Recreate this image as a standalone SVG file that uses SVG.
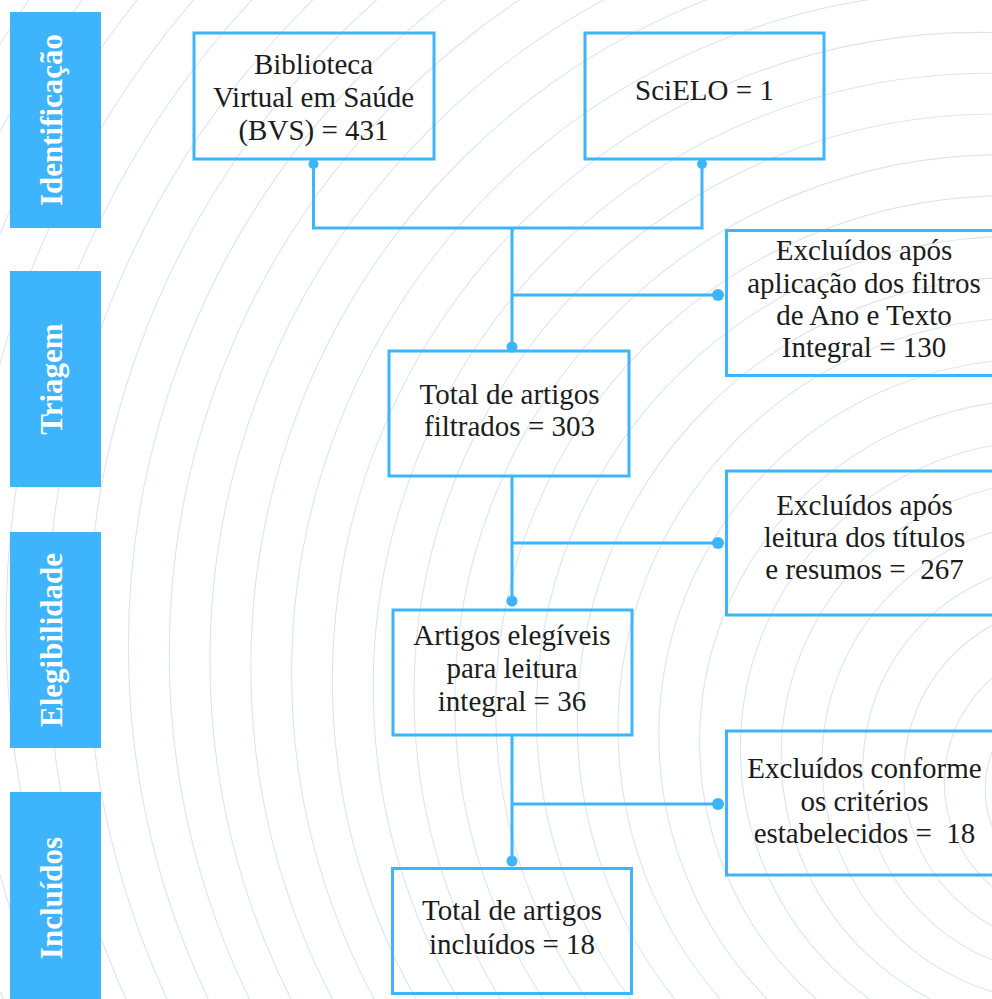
<svg xmlns="http://www.w3.org/2000/svg" width="992" height="999" viewBox="0 0 992 999">
<style>
.lane{fill:#3db4fc}
.lane-t{font-family:"Liberation Serif","Times New Roman",serif;font-weight:bold;font-size:31px;fill:#ffffff;text-anchor:middle}
.box{fill:none;stroke:#3db5fa;stroke-width:3}
.t{font-family:"Liberation Serif","Times New Roman",serif;font-size:29px;fill:#1c1c1c;text-anchor:middle}
.c{fill:none;stroke:#3db5fa;stroke-width:3}
.dot{fill:#3db5fa}
.bg circle{fill:none;stroke:#dde5eb;stroke-width:1.1}
.pre{white-space:pre}
</style>
<rect x="0" y="0" width="992" height="999" fill="#ffffff"/>
<g id="background" class="bg">
<circle cx="1096" cy="796" r="70"/>
<circle cx="1089.2" cy="789.2" r="104"/>
<circle cx="1082.4" cy="782.4" r="138"/>
<circle cx="1075.6" cy="775.6" r="172"/>
<circle cx="1068.8" cy="768.8" r="206"/>
<circle cx="1062" cy="762" r="240"/>
<circle cx="1055.2" cy="755.2" r="274"/>
<circle cx="1048.4" cy="748.4" r="308"/>
<circle cx="1041.6" cy="741.6" r="342"/>
<circle cx="1034.8" cy="734.8" r="376"/>
<circle cx="1028" cy="728" r="410"/>
<circle cx="1021.2" cy="721.2" r="444"/>
<circle cx="1014.4" cy="714.4" r="478"/>
<circle cx="1007.6" cy="707.6" r="512"/>
<circle cx="1000.8" cy="700.8" r="546"/>
<circle cx="994" cy="694" r="580"/>
<circle cx="987.2" cy="687.2" r="614"/>
<circle cx="980.4" cy="680.4" r="648"/>
<circle cx="973.6" cy="673.6" r="682"/>
<circle cx="966.8" cy="666.8" r="716"/>
<circle cx="960" cy="660" r="750"/>
<circle cx="953.2" cy="653.2" r="784"/>
<circle cx="946.4" cy="646.4" r="818"/>
<circle cx="939.6" cy="639.6" r="852"/>
<circle cx="932.8" cy="632.8" r="886"/>
<circle cx="926" cy="626" r="920"/>
<circle cx="919.2" cy="619.2" r="954"/>
<circle cx="912.4" cy="612.4" r="988"/>
<circle cx="905.6" cy="605.6" r="1022"/>
<circle cx="898.8" cy="598.8" r="1056"/>
<circle cx="892" cy="592" r="1090"/>
<circle cx="885.2" cy="585.2" r="1124"/>
<circle cx="878.4" cy="578.4" r="1158"/>
<circle cx="871.6" cy="571.6" r="1192"/>
</g>
<g id="lane-identificacao">
<rect class="lane" x="10" y="12" width="91" height="216"/>
<text class="lane-t" transform="translate(62,120) rotate(-90)">Identificação</text>
</g>
<g id="lane-triagem">
<rect class="lane" x="10" y="271" width="91" height="216"/>
<text class="lane-t" transform="translate(62,379) rotate(-90)">Triagem</text>
</g>
<g id="lane-elegibilidade">
<rect class="lane" x="10" y="532" width="91" height="216"/>
<text class="lane-t" transform="translate(62,640) rotate(-90)">Elegibilidade</text>
</g>
<g id="lane-incluidos">
<rect class="lane" x="10" y="792" width="91" height="216"/>
<text class="lane-t" transform="translate(62,898) rotate(-90)">Incluídos</text>
</g>
<g id="connectors">
<path class="c" d="M313.5,164 V228 H702 V164"/>
<path class="c" d="M512,228 V347"/>
<path class="c" d="M512,295 H718"/>
<path class="c" d="M512,477 V601"/>
<path class="c" d="M512,543 H718"/>
<path class="c" d="M512,736 V861"/>
<path class="c" d="M512,804 H718"/>
<circle class="dot" cx="313.5" cy="164" r="5"/>
<circle class="dot" cx="702" cy="164" r="5"/>
<circle class="dot" cx="512" cy="347" r="5.5"/>
<circle class="dot" cx="718" cy="295" r="6"/>
<circle class="dot" cx="512" cy="601" r="5.5"/>
<circle class="dot" cx="718" cy="543" r="6"/>
<circle class="dot" cx="512" cy="861" r="5.5"/>
<circle class="dot" cx="718" cy="804" r="6"/>
</g>
<g id="node-bvs">
<rect class="box" x="194" y="33" width="240" height="126"/>
<text class="t" x="313.5" y="74">Biblioteca</text>
<text class="t" x="313.5" y="107">Virtual em Saúde</text>
<text class="t" x="313.5" y="140">(BVS) = 431</text>
</g>
<g id="node-scielo">
<rect class="box" x="585" y="33" width="239" height="126"/>
<text class="t" x="704.5" y="100">SciELO = 1</text>
</g>
<g id="node-excl1">
<rect class="box" x="726.5" y="230.5" width="300" height="145"/>
<text class="t" x="864" y="260">Excluídos após</text>
<text class="t" x="864" y="292.5">aplicação dos filtros</text>
<text class="t" x="864" y="325">de Ano e Texto</text>
<text class="t" x="864" y="357">Integral = 130</text>
</g>
<g id="node-filtrados">
<rect class="box" x="389" y="351" width="240" height="125"/>
<text class="t" x="509.5" y="403.5">Total de artigos</text>
<text class="t" x="509.5" y="436">filtrados = 303</text>
</g>
<g id="node-excl2">
<rect class="box" x="726.5" y="471" width="300" height="144"/>
<text class="t" x="864.5" y="515">Excluídos após</text>
<text class="t" x="864.5" y="547">leitura dos títulos</text>
<text class="t pre" x="864.5" y="579">e resumos =  267</text>
</g>
<g id="node-elegiveis">
<rect class="box" x="393" y="610" width="239" height="125"/>
<text class="t" x="512" y="645">Artigos elegíveis</text>
<text class="t" x="512" y="678">para leitura</text>
<text class="t" x="512" y="711">integral = 36</text>
</g>
<g id="node-excl3">
<rect class="box" x="726.5" y="731" width="300" height="144"/>
<text class="t" x="864.5" y="778">Excluídos conforme</text>
<text class="t" x="864.5" y="810.5">os critérios</text>
<text class="t pre" x="864.5" y="843">estabelecidos =  18</text>
</g>
<g id="node-incluidos">
<rect class="box" x="392.5" y="868.5" width="239" height="125"/>
<text class="t" x="512" y="920">Total de artigos</text>
<text class="t" x="512" y="954">incluídos = 18</text>
</g>
</svg>
